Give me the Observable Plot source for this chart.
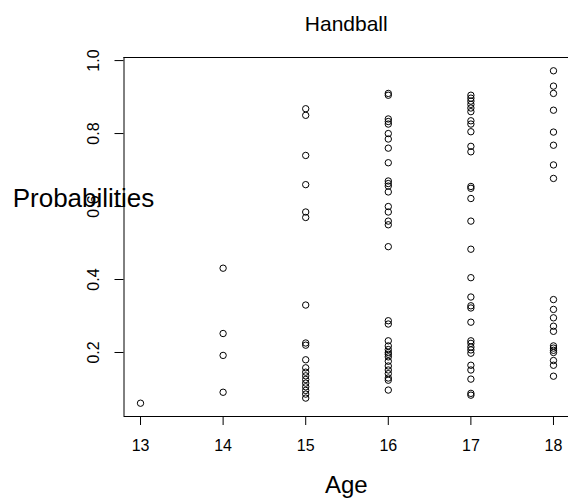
<!DOCTYPE html>
<html><head><meta charset="utf-8">
<script src="https://cdn.jsdelivr.net/npm/d3@7"></script>
<script src="https://cdn.jsdelivr.net/npm/@observablehq/plot@0.6"></script>
<style>body{margin:0;background:#fff;overflow:hidden} svg{display:block}</style>
</head><body><div id="chart"></div>
<script>
const ages = [13, 14, 15, 16, 17, 18];
const p13 = [0.061];
const p14 = [0.431, 0.252, 0.192, 0.091];
const p15 = [0.868, 0.850, 0.740, 0.660, 0.585, 0.570, 0.330, 0.226, 0.220, 0.180, 0.158, 0.146, 0.136, 0.126, 0.116, 0.106, 0.096, 0.086, 0.075];
const p16 = [0.910, 0.905, 0.840, 0.833, 0.826, 0.800, 0.785, 0.760, 0.720, 0.670, 0.663, 0.656, 0.640, 0.600, 0.585, 0.560, 0.550, 0.490, 0.287, 0.278, 0.232, 0.218, 0.208, 0.200, 0.195, 0.188, 0.176, 0.163, 0.152, 0.142, 0.130, 0.124, 0.097];
const p17 = [0.905, 0.897, 0.889, 0.880, 0.870, 0.860, 0.835, 0.826, 0.805, 0.765, 0.750, 0.655, 0.650, 0.622, 0.560, 0.483, 0.405, 0.352, 0.328, 0.322, 0.283, 0.232, 0.225, 0.215, 0.207, 0.198, 0.165, 0.152, 0.127, 0.088, 0.083];
const p18 = [0.972, 0.930, 0.910, 0.864, 0.804, 0.768, 0.714, 0.677, 0.345, 0.318, 0.295, 0.272, 0.258, 0.218, 0.212, 0.206, 0.200, 0.178, 0.165, 0.135];
const yTicks = [0.2, 0.4, 0.6, 0.8, 1.0];
const xTicks = ages;
const titleText = "Handball";
const xLabel = "Age";
const yLabel = "Probabilities";

const series = [p13, p14, p15, p16, p17, p18];
const data = series.flatMap((ps, i) => ps.map(p => ({age: ages[i], p})));
const allP = data.map(d => d.p);
const ymin = d3.min(allP), ymax = d3.max(allP), yr = ymax - ymin;
const yDomain = [ymin - 0.04 * yr, ymax + 0.04 * yr];
const xr = d3.max(ages) - d3.min(ages);
const xDomain = [d3.min(ages) - 0.04 * xr, d3.max(ages) + 0.04 * xr];

const W = 568, H = 499, L = 123.5, T = 57, B = 416;
const font = "'Liberation Sans', Arial, Helvetica, sans-serif";

const chart = Plot.plot({
  width: W, height: H,
  marginLeft: L, marginRight: 0, marginTop: T, marginBottom: H - B,
  style: {fontFamily: font, background: "#fff", color: "#000"},
  x: {domain: xDomain, range: [L, 569.5], label: null},
  y: {domain: yDomain, label: null},
  marks: [
    Plot.ruleX([xDomain[0]], {stroke: "#000", strokeWidth: 1}),
    Plot.ruleY([yDomain[0], yDomain[1]], {stroke: "#000", strokeWidth: 1}),
    Plot.axisX({ticks: xTicks, tickSize: 9, tickPadding: 14, tickFormat: d => String(d), fontSize: 16, stroke: "#000", label: null}),
    Plot.axisY({ticks: yTicks, tickSize: 9, tickFormat: () => "", stroke: "#000", label: null}),
    Plot.text(yTicks, {y: d => d, frameAnchor: "left", text: d => d.toFixed(1), rotate: -90, dx: -30.5, textAnchor: "middle", lineAnchor: "middle", fontSize: 16, fill: "#000"}),
    Plot.dot(data, {x: "age", y: "p", r: 3.2, stroke: "#000", strokeWidth: 1, fill: "none"}),
    Plot.text([titleText], {frameAnchor: "top", dy: -27, lineAnchor: "bottom", fontSize: 21, fill: "#000"}),
    Plot.text([xLabel], {frameAnchor: "bottom", dy: 76, lineAnchor: "bottom", fontSize: 24, fill: "#000"}),
    Plot.text([yLabel], {frameAnchor: "left", dx: -40.5, dy: -30, lineAnchor: "bottom", textAnchor: "middle", fontSize: 26, fill: "#000"})
  ]
});
document.getElementById("chart").append(chart);
</script>
</body></html>
